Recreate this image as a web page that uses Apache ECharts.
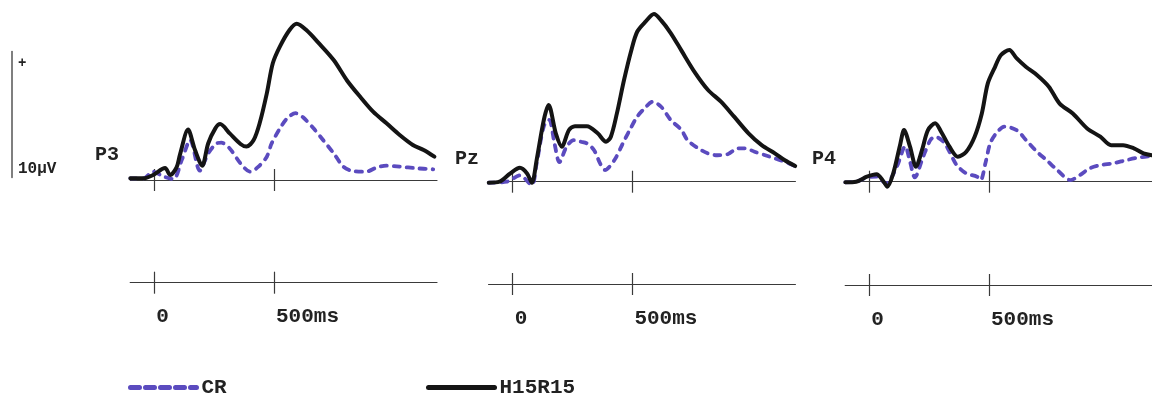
<!DOCTYPE html>
<html>
<head>
<meta charset="utf-8">
<script src="https://cdn.jsdelivr.net/npm/echarts@6.0.0/dist/echarts.min.js"></script>
<style>
html,body{margin:0;padding:0;background:#fff;}
#chart{width:1152px;height:397px;}
</style>
</head>
<body>
<div id="chart"></div>
<script>
// ---------------- data (time in ms, amplitude in µV) ----------------
const seriesNames = ['CR', 'H15R15'];
const panelLabels = ['P3', 'Pz', 'P4'];
const tickValues = [0, 500];
const tickLabels = ['0', '500ms'];
const scaleLabel = '10µV';

const p3CrT = [-100,-45,-5,40,80,115,150,190,225,260,280,315,360,400,435,470,490,525,555,590,620,665,705,750,790,830,885,930,970,1025,1095,1165];
const p3CrV = [0.13,0.13,0.66,0.26,0.08,1.6,3.17,0.74,2.1,2.9,2.96,2.5,1.32,0.66,1.06,1.85,2.9,4.1,4.9,5.3,5.0,4.1,3.17,2.1,1.06,0.71,0.66,1.0,1.14,1.06,0.93,0.85];
const p3HT = [-100,-45,-5,45,66,93,107,141,170,200,225,255,275,315,360,385,415,440,470,495,525,565,595,635,690,750,805,860,915,970,1025,1080,1125,1170];
const p3HV = [0.13,0.13,0.4,0.95,0.4,1.0,2.0,4.0,2.38,1.14,2.9,4.1,4.44,3.7,2.86,2.65,3.17,4.5,6.88,9.26,10.6,11.9,12.4,11.9,10.8,9.5,7.9,6.6,5.4,4.5,3.57,2.78,2.38,1.85];

const pzCrT = [-100,-25,30,79,100,130,152,175,195,225,255,285,310,340,365,385,425,460,485,520,550,585,620,660,705,730,775,815,855,900,940,970,1010,1055,1095,1135,1180];
const pzCrV = [-0.08,0,0.5,-0.26,1.45,4.4,4.9,3.0,1.55,2.78,3.3,3.17,3.04,2.5,1.45,0.93,1.72,3.04,3.97,5.16,5.8,6.35,5.95,4.9,4.1,3.3,2.65,2.25,2.1,2.2,2.65,2.65,2.38,2.1,1.85,1.6,1.24];
const pzHT = [-100,-55,-10,30,60,80,100,130,150,180,205,235,260,310,355,390,410,435,465,495,520,555,590,620,660,705,760,815,870,925,985,1040,1095,1135,1180];
const pzHV = [-0.08,0,0.66,1.1,0.66,-0.08,1.72,4.9,6.08,3.84,2.78,4.1,4.4,4.4,3.84,3.17,3.57,5.4,8.07,10.4,11.9,12.7,13.3,12.8,11.8,10.4,8.7,7.3,6.35,5.16,3.84,2.9,2.25,1.72,1.24];

const p4CrT = [-100,-55,-10,30,70,115,150,170,190,225,255,275,310,335,365,405,450,465,485,505,530,565,615,655,700,740,785,840,880,920,965,1020,1075,1130,1180];
const p4CrV = [-0.05,0,0.34,0.4,-0.13,1.2,2.8,1.6,0.34,1.98,3.3,3.57,3.17,2.38,1.32,0.66,0.4,0.13,1.46,3.04,3.84,4.37,4.1,3.3,2.38,1.72,0.93,0.13,0.53,1.06,1.32,1.46,1.72,1.93,2.04];
const p4HT = [-100,-55,-10,30,60,75,100,130,145,170,195,220,245,275,300,335,370,405,440,470,495,525,550,585,615,655,700,750,795,850,910,965,1010,1060,1105,1145,1180];
const p4HV = [-0.05,0,0.4,0.6,0,-0.4,0.66,3.04,4.1,2.78,1.19,2.5,4.1,4.63,3.97,2.78,1.98,2.38,3.57,5.42,7.8,9.1,10.05,10.45,9.8,9.1,8.47,7.54,6.2,5.42,4.23,3.57,2.9,2.9,2.65,2.25,2.1];

// ---------------- layout / style ----------------
const X_MIN = -100, X_MAX = 1180;
const Y_MIN = -2, Y_MAX = 14;
const PX_PER_MS = 0.2394;
const PX_PER_UV = 12.6;
const GRID_W = (X_MAX - X_MIN) * PX_PER_MS;
const zeroX = [154.3, 512.7, 869.3];
const baseY = [180, 181.7, 181.7];
const lowerY = [282.7, 284, 285];
const labelPos = [[95, 157], [455, 161], [812, 161]];
const PURPLE = '#5b4bbf';
const BLACK = '#141414';
const AXIS = '#3a3a3a';
const MONO = '"Liberation Mono", "Courier New", monospace';

const crData = [[p3CrT, p3CrV], [pzCrT, pzCrV], [p4CrT, p4CrV]];
const hData = [[p3HT, p3HV], [pzHT, pzHV], [p4HT, p4HV]];
const zip = (t, v) => t.map((x, i) => [x, v[i]]);

const grid = [], xAxis = [], yAxis = [], series = [];

function addAxesPair(gridIndex, yIdx, withLabels) {
  const base = {
    type: 'value', gridIndex, min: X_MIN, max: X_MAX,
    axisLine: { show: true, onZero: true, onZeroAxisIndex: yIdx, lineStyle: { color: AXIS, width: 1.2 } },
    axisTick: { show: true, customValues: tickValues, length: 11, lineStyle: { color: AXIS, width: 1.2 } },
    axisLabel: { show: false },
    splitLine: { show: false }
  };
  const bottom = JSON.parse(JSON.stringify(base));
  bottom.position = 'bottom';
  if (withLabels) {
    bottom.axisLabel = {
      show: true, customValues: tickValues,
      formatter: v => tickLabels[tickValues.indexOf(v)],
      align: 'left', margin: 14, padding: [0, 0, 0, 2],
      fontFamily: MONO, fontWeight: 'bold', fontSize: 21, color: '#222'
    };
  }
  const top = JSON.parse(JSON.stringify(base));
  top.position = 'top';
  xAxis.push(bottom, top);
}

// top (trace) panels: grid 0..2, yAxis 0..2
for (let i = 0; i < 3; i++) {
  const left = zeroX[i] + X_MIN * PX_PER_MS;
  grid.push({ left, top: baseY[i] - Y_MAX * PX_PER_UV, width: GRID_W, height: (Y_MAX - Y_MIN) * PX_PER_UV, outerBoundsMode: 'none' });
  yAxis.push({ type: 'value', gridIndex: i, min: Y_MIN, max: Y_MAX, show: false, splitLine: { show: false } });
  addAxesPair(i, i, false);
}
// lower (time scale) panels: grid 3..5, yAxis 3..5
for (let i = 0; i < 3; i++) {
  const left = zeroX[i] + X_MIN * PX_PER_MS;
  grid.push({ left, top: lowerY[i] - 10, width: GRID_W, height: 20, outerBoundsMode: 'none' });
  yAxis.push({ type: 'value', gridIndex: 3 + i, min: -1, max: 1, show: false, splitLine: { show: false } });
  addAxesPair(3 + i, 3 + i, true);
}
// amplitude scale bar: grid 6, yAxis 6, xAxis 12
grid.push({ left: 12, top: baseY[0] - 10 * PX_PER_UV - 2.5, width: 1, height: 10 * PX_PER_UV, outerBoundsMode: 'none' });
yAxis.push({ type: 'value', gridIndex: 6, min: 0, max: 10, position: 'left',
  axisLine: { show: true, lineStyle: { color: '#555', width: 1.5 } },
  axisTick: { show: false }, axisLabel: { show: false }, splitLine: { show: false } });
xAxis.push({ type: 'value', gridIndex: 6, show: false, min: 0, max: 1 });

for (let i = 0; i < 3; i++) {
  series.push({
    name: seriesNames[0], type: 'line', xAxisIndex: 2 * i, yAxisIndex: i,
    data: zip(crData[i][0], crData[i][1]), symbol: 'none', smooth: 0.3, z: 2,
    lineStyle: { color: PURPLE, width: 3.8, type: [6, 7], cap: 'round', join: 'round' },
    itemStyle: { color: PURPLE }
  });
  series.push({
    name: seriesNames[1], type: 'line', xAxisIndex: 2 * i, yAxisIndex: i,
    data: zip(hData[i][0], hData[i][1]), symbol: 'none', smooth: 0.3, z: 3,
    lineStyle: { color: BLACK, width: 4, join: 'round', cap: 'round' },
    itemStyle: { color: BLACK }
  });
}

const legendText = { fontFamily: MONO, fontWeight: 'bold', fontSize: 21, color: '#222' };
const legend = [
  { data: [seriesNames[0]], left: 128, top: 377, padding: 0, itemWidth: 66, itemHeight: 14, selectedMode: false,
    itemStyle: { opacity: 0, color: 'rgba(0,0,0,0)', borderWidth: 0 },
    lineStyle: { width: 5, type: [9, 6], cap: 'round', color: PURPLE },
    textStyle: legendText },
  { data: [seriesNames[1]], left: 426, top: 377, padding: 0, itemWidth: 66, itemHeight: 14, selectedMode: false,
    itemStyle: { opacity: 0, color: 'rgba(0,0,0,0)', borderWidth: 0 },
    lineStyle: { width: 5, type: 'solid', color: BLACK },
    textStyle: legendText }
];

const graphic = [];
for (let i = 0; i < 3; i++) {
  graphic.push({ type: 'text', left: labelPos[i][0], top: labelPos[i][1] - 12,
    style: { text: panelLabels[i], font: 'bold 20px ' + MONO, fill: '#222' } });
}
graphic.push({ type: 'text', left: 18, top: 56, style: { text: '+', font: 'bold 14px ' + MONO, fill: '#222' } });
graphic.push({ type: 'text', left: 18, top: 161, style: { text: scaleLabel, font: 'bold 16px ' + MONO, fill: '#222' } });

const chart = echarts.init(document.getElementById('chart'), null, { renderer: 'canvas' });
chart.setOption({
  backgroundColor: '#ffffff',
  animation: false,
  grid, xAxis, yAxis, series, legend, graphic
});
</script>
</body>
</html>
